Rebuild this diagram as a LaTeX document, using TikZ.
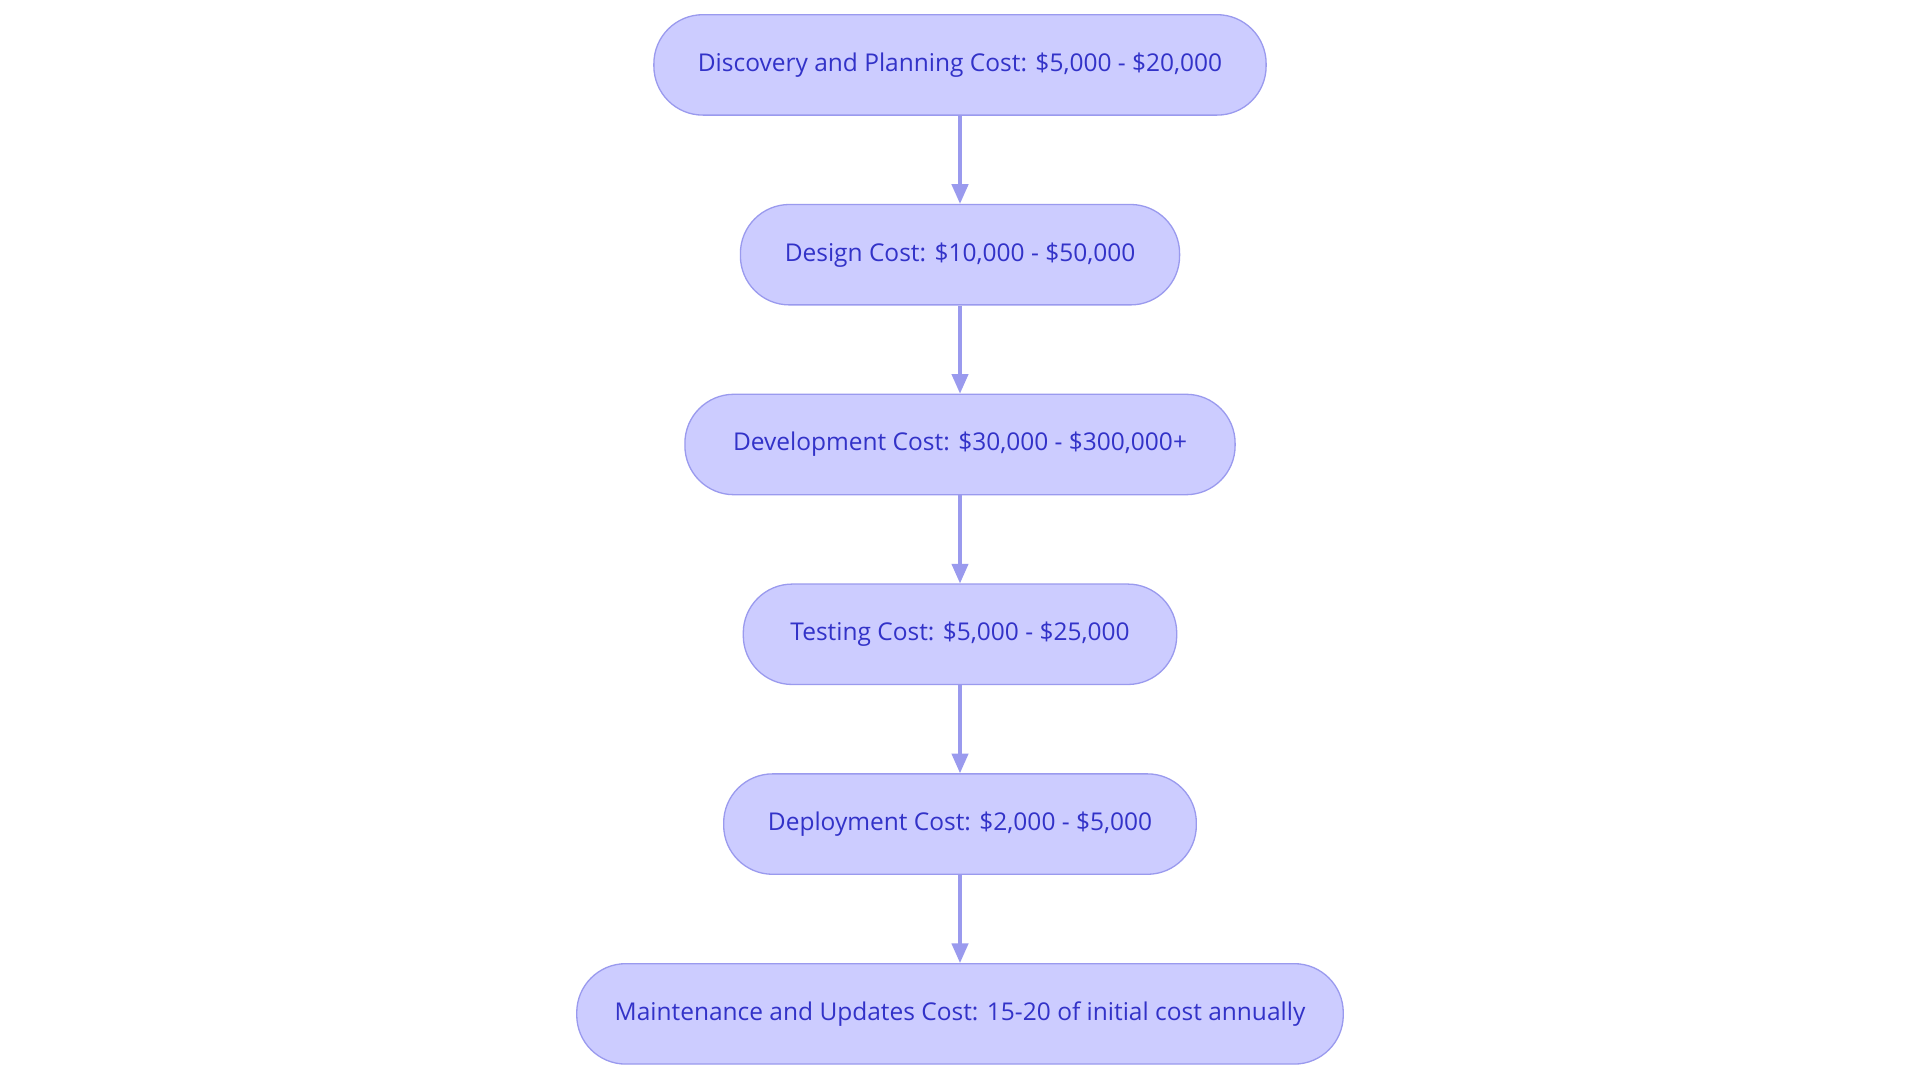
\documentclass[tikz,border=0pt]{standalone}
\usepackage{fontspec}
\setmainfont{Open Sans}
\usetikzlibrary{arrows.meta}
\definecolor{fillc}{HTML}{CCCCFF}
\definecolor{linec}{HTML}{9A9AEE}
\definecolor{textc}{HTML}{3232C8}
\begin{document}
\begin{tikzpicture}[x=0.75pt,y=-0.75pt,
  box/.style={draw=linec,fill=fillc,line width=0.8pt,rounded corners=30pt,minimum height=61.5pt,text=textc,font=\fontsize{15}{17}\selectfont,inner sep=0pt},
  conn/.style={draw=linec,line width=2pt,-{Triangle[length=12pt,width=10pt]}}]
\useasboundingbox (0,0) rectangle (1568,884);
\fill[white] (0,0) rectangle (1568,884);
\node[box,minimum width=375pt] (a) at (784,53) {Discovery and Planning Cost: \$5,000 - \$20,000};
\node[box,minimum width=269pt] (b) at (784,208) {Design Cost: \$10,000 - \$50,000};
\node[box,minimum width=337pt] (c) at (784,363) {Development Cost: \$30,000 - \$300,000+};
\node[box,minimum width=265.5pt] (d) at (784,518) {Testing Cost: \$5,000 - \$25,000};
\node[box,minimum width=289.5pt] (e) at (784,673) {Deployment Cost: \$2,000 - \$5,000};
\node[box,minimum width=469.5pt] (f) at (784,828) {Maintenance and Updates Cost: 15-20 of initial cost annually};
\draw[conn] (a) -- (b);
\draw[conn] (b) -- (c);
\draw[conn] (c) -- (d);
\draw[conn] (d) -- (e);
\draw[conn] (e) -- (f);
\end{tikzpicture}
\end{document}
